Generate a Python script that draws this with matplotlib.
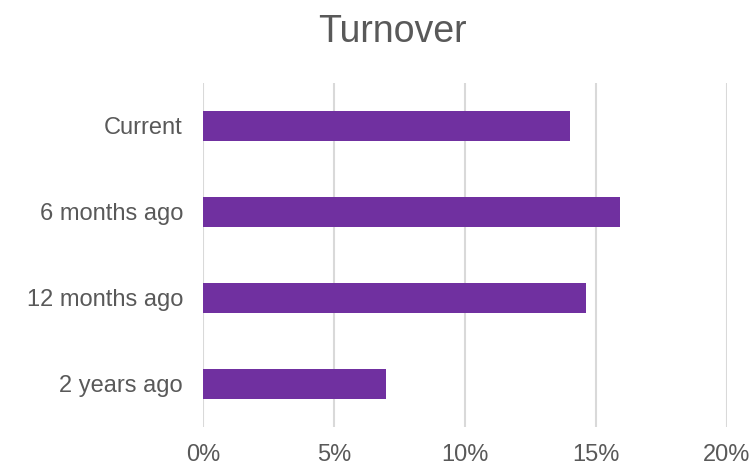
import matplotlib.pyplot as plt
from matplotlib.ticker import FuncFormatter

categories = ["Current", "6 months ago", "12 months ago", "2 years ago"]
turnover = [14.0, 15.9, 14.6, 7.0]
xticks = [0, 5, 10, 15, 20]

plt.rcParams["font.family"] = ["Liberation Sans", "DejaVu Sans"]

fig = plt.figure(figsize=(7.5, 4.66), dpi=100)
ax = fig.add_axes([0.2707, 0.0837, 0.6986, 0.7382])

ax.barh(categories, turnover, height=0.357, color="#7030A0", zorder=3)

ax.set_xlim(0, 20)
ax.set_ylim(3.5, -0.5)
ax.set_xticks(xticks)
ax.xaxis.set_major_formatter(FuncFormatter(lambda v, p: f"{v:.0f}%"))
ax.grid(axis="x", color="#D9D9D9", linewidth=1.5, zorder=0)
ax.tick_params(axis="both", length=0, labelsize=17, labelcolor="#595959")
ax.tick_params(axis="y", pad=14.5)
ax.tick_params(axis="x", pad=12)
for s in ax.spines.values():
    s.set_visible(False)

fig.text(0.5233, 1 - 42.5 / 466, "Turnover", ha="center", va="baseline",
         fontsize=27, color="#595959")

plt.savefig("out.png", dpi=100)
